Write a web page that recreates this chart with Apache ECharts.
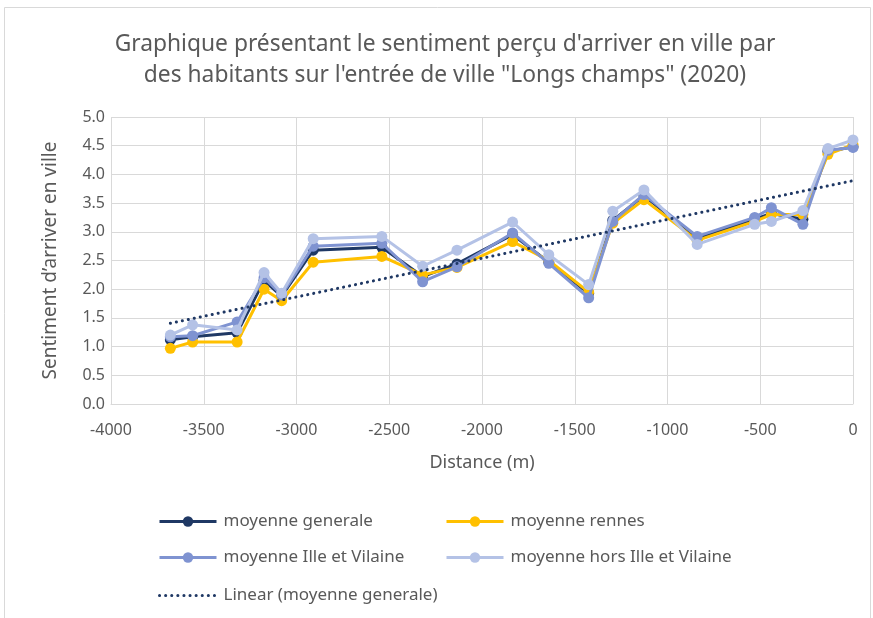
<!DOCTYPE html>
<html>
<head>
<meta charset="utf-8">
<script src="https://cdn.jsdelivr.net/npm/echarts@6/dist/echarts.min.js"></script>
<style>
  html, body { margin: 0; padding: 0; background: #ffffff; }
  #chart { width: 873px; height: 618px; }
</style>
</head>
<body>
<div id="chart"></div>
<script>
// Distance from the town entrance (m) for each survey point
const distances = [-3680, -3560, -3320, -3175, -3080, -2910, -2540, -2320, -2135, -1835,
                   -1640, -1425, -1295, -1127, -840, -530, -440, -270, -135, 0];

// Mean perceived "arriving in town" score per group
const moyenneGenerale = [1.12, 1.17, 1.24, 2.15, 1.88, 2.68, 2.73, 2.22, 2.44, 2.95,
                         2.47, 1.93, 3.20, 3.63, 2.88, 3.22, 3.32, 3.22, 4.40, 4.48];
const moyenneRennes   = [0.97, 1.08, 1.08, 2.00, 1.80, 2.47, 2.57, 2.25, 2.38, 2.83,
                         2.50, 1.95, 3.15, 3.56, 2.85, 3.18, 3.30, 3.30, 4.35, 4.52];
const moyenneIV       = [1.17, 1.19, 1.43, 2.20, 1.90, 2.75, 2.80, 2.13, 2.39, 2.98,
                         2.45, 1.85, 3.18, 3.65, 2.92, 3.25, 3.42, 3.13, 4.42, 4.47];
const moyenneHorsIV   = [1.20, 1.38, 1.29, 2.29, 1.93, 2.88, 2.92, 2.40, 2.68, 3.17,
                         2.60, 2.08, 3.36, 3.73, 2.78, 3.13, 3.18, 3.37, 4.45, 4.60];

const seriesNames = ['moyenne generale', 'moyenne rennes', 'moyenne Ille et Vilaine',
                     'moyenne hors Ille et Vilaine', 'Linear (moyenne generale)'];
const seriesColors = ['#1f3864', '#ffc000', '#7f93d1', '#b4c2e6', '#1f3864'];

const xTicks = { min: -4000, max: 0, interval: 500 };
const yTicks = { min: 0, max: 5, interval: 0.5 };

function pairs(xs, ys) { return xs.map((x, i) => [x, ys[i]]); }

// Least-squares trend line of the overall mean, over the data range
function linearFit(xs, ys) {
  const n = xs.length;
  const mx = xs.reduce((a, b) => a + b, 0) / n;
  const my = ys.reduce((a, b) => a + b, 0) / n;
  let sxy = 0, sxx = 0;
  for (let i = 0; i < n; i++) { sxy += (xs[i] - mx) * (ys[i] - my); sxx += (xs[i] - mx) ** 2; }
  const slope = sxy / sxx;
  const icpt = my - slope * mx;
  const x0 = Math.min(...xs), x1 = Math.max(...xs);
  return [[x0, icpt + slope * x0], [x1, icpt + slope * x1]];
}

const FONT = 'Noto Sans';
const TEXT = '#595959';
const GRID = '#d9d9d9';

function lineSeries(name, values, color, z) {
  return {
    name, type: 'line', data: pairs(distances, values), z,
    symbol: 'circle', symbolSize: 11,
    itemStyle: { color },
    lineStyle: { color, width: 3 },
    emphasis: { disabled: true }
  };
}

const chart = echarts.init(document.getElementById('chart'), null, { renderer: 'canvas' });

const legendBase = {
  itemWidth: 57, itemHeight: 13, itemGap: 0, padding: 0,
  lineStyle: { width: 3 },
  textStyle: { fontFamily: FONT, fontSize: 17, color: TEXT, padding: [0, 0, 0, 2] },
  selectedMode: false
};

chart.setOption({
  animation: false,
  backgroundColor: '#ffffff',
  graphic: [
    { type: 'rect', shape: { x: 4.5, y: 7.5, width: 866, height: 620 },
      style: { fill: 'none', stroke: GRID, lineWidth: 1 }, silent: true },
    { type: 'text', x: 445, y: 45,
      style: { text: 'Graphique présentant le sentiment perçu d\'arriver en ville par',
               font: '22.8px "' + FONT + '"', fill: TEXT, textAlign: 'center', textVerticalAlign: 'middle' } },
    { type: 'text', x: 445, y: 76,
      style: { text: 'des habitants sur l\'entrée de ville "Longs champs" (2020)',
               font: '22.8px "' + FONT + '"', fill: TEXT, textAlign: 'center', textVerticalAlign: 'middle' } }
  ],
  grid: { left: 111, right: 20, top: 117, bottom: 214, containLabel: false },
  xAxis: {
    type: 'value', min: xTicks.min, max: xTicks.max, interval: xTicks.interval,
    name: 'Distance (m)', nameLocation: 'middle', nameGap: 50,
    nameTextStyle: { fontFamily: FONT, fontSize: 18, color: TEXT },
    axisLine: { show: true, lineStyle: { color: GRID, width: 1 } },
    axisTick: { show: false },
    axisLabel: { fontFamily: FONT, fontSize: 16, color: TEXT, margin: 18,
                 formatter: v => String(v) },
    splitLine: { show: true, lineStyle: { color: GRID, width: 1 } }
  },
  yAxis: {
    type: 'value', min: yTicks.min, max: yTicks.max, interval: yTicks.interval,
    name: 'Sentiment d’arriver en ville', nameLocation: 'middle', nameGap: 51,
    nameTextStyle: { fontFamily: FONT, fontSize: 19, color: TEXT },
    axisLine: { show: false }, axisTick: { show: false },
    axisLabel: { fontFamily: FONT, fontSize: 16, color: TEXT, margin: 6,
                 formatter: v => v.toFixed(1) },
    splitLine: { show: true, lineStyle: { color: GRID, width: 1 } }
  },
  legend: [
    Object.assign({ data: [seriesNames[0]], left: 158, top: 513 }, legendBase),
    Object.assign({ data: [seriesNames[1]], left: 445, top: 513 }, legendBase),
    Object.assign({ data: [seriesNames[2]], left: 158, top: 549 }, legendBase),
    Object.assign({ data: [seriesNames[3]], left: 445, top: 549 }, legendBase),
    Object.assign({ data: [seriesNames[4]], left: 158, top: 587, itemStyle: { opacity: 0 } }, legendBase)
  ],
  series: [
    lineSeries(seriesNames[0], moyenneGenerale, seriesColors[0], 2),
    lineSeries(seriesNames[1], moyenneRennes, seriesColors[1], 3),
    lineSeries(seriesNames[2], moyenneIV, seriesColors[2], 4),
    lineSeries(seriesNames[3], moyenneHorsIV, seriesColors[3], 5),
    {
      name: seriesNames[4], type: 'line', z: 6,
      data: linearFit(distances, moyenneGenerale),
      symbol: 'none', itemStyle: { color: seriesColors[4] },
      lineStyle: { color: seriesColors[4], width: 3, type: [0.1, 6], cap: 'round' },
      emphasis: { disabled: true }
    }
  ]
});
</script>
</body>
</html>
